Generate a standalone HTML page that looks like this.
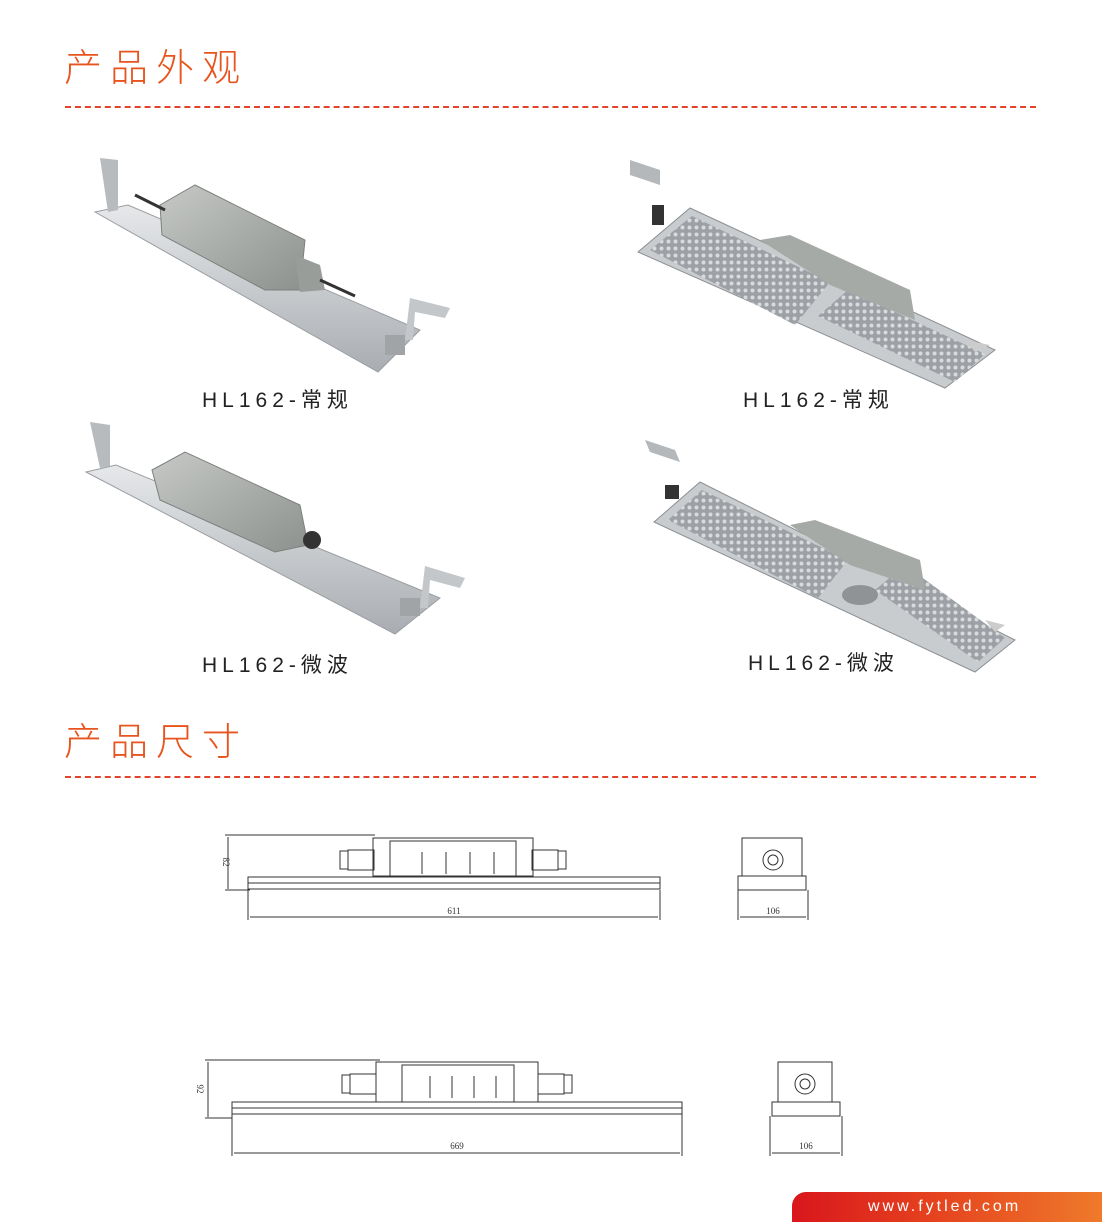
<!DOCTYPE html>
<html><head><meta charset="utf-8"><style>
html,body{margin:0;padding:0;background:#fff;}
body{width:1102px;height:1222px;position:relative;overflow:hidden;font-family:"Liberation Sans","Noto Sans CJK SC",sans-serif;}
.h{position:absolute;left:64px;font-size:38px;color:#e8541e;letter-spacing:8px;font-family:"Noto Sans CJK SC",sans-serif;font-weight:300;line-height:1;}
.dash{position:absolute;left:65px;width:971px;border-top:2px dashed #e2432a;}
.lbl{position:absolute;font-size:21px;letter-spacing:5px;color:#222;font-family:"Liberation Sans","Noto Sans CJK SC",sans-serif;line-height:1;}
.foot{position:absolute;left:792px;top:1192px;width:310px;height:30px;border-top-left-radius:14px;background:linear-gradient(90deg,#d9161c,#e6471f 50%,#ef7a2b);color:#fff;font-size:16px;letter-spacing:3px;line-height:30px;padding-left:76px;box-sizing:border-box;}
svg{position:absolute;left:0;top:0;}
</style></head><body>
<div class="h" style="top:46px">产品外观</div>
<div class="dash" style="top:106px"></div>
<div class="h" style="top:720px">产品尺寸</div>
<div class="dash" style="top:776px"></div>
<div class="lbl" style="left:202px;top:390px">HL162-常规</div>
<div class="lbl" style="left:743px;top:390px">HL162-常规</div>
<div class="lbl" style="left:202px;top:655px">HL162-微波</div>
<div class="lbl" style="left:748px;top:653px">HL162-微波</div>
<svg width="1102" height="1222" viewBox="0 0 1102 1222">
<defs>
<linearGradient id="pl" x1="0" y1="0" x2="0" y2="1"><stop offset="0" stop-color="#e6e8ea"/><stop offset="1" stop-color="#a9adb1"/></linearGradient>
<linearGradient id="bx" x1="0" y1="0" x2="1" y2="1"><stop offset="0" stop-color="#c6c9c6"/><stop offset="1" stop-color="#8d918e"/></linearGradient>
<pattern id="led" width="7" height="7" patternUnits="userSpaceOnUse"><rect width="7" height="7" fill="#9da1a5"/><circle cx="3.5" cy="3.5" r="2" fill="#d8dadc"/></pattern>
</defs>
<g>
<polygon points="95,212 128,205 420,330 378,372" fill="url(#pl)" stroke="#9a9ea2"/>
<polygon points="100,158 118,160 118,210 108,212" fill="#b8bbbe"/>
<polygon points="160,205 195,185 305,240 300,290 265,290 162,235" fill="url(#bx)" stroke="#7d817e"/>
<polygon points="295,255 320,265 325,290 300,292" fill="#999d9a"/>
<line x1="135" y1="195" x2="165" y2="210" stroke="#333" stroke-width="3"/>
<line x1="320" y1="280" x2="355" y2="296" stroke="#333" stroke-width="3"/>
<polygon points="410,298 450,308 445,318 415,312 413,340 405,340" fill="#c4c7ca"/>
<rect x="385" y="335" width="20" height="20" fill="#a0a4a7"/>
</g>
<g>
<polygon points="638,252 690,208 995,350 945,388" fill="#c9ccce" stroke="#8b8f93"/>
<polygon points="650,250 692,216 830,282 795,325" fill="url(#led)"/>
<polygon points="818,316 848,290 985,354 955,382" fill="url(#led)"/>
<polygon points="760,240 790,235 910,290 915,320 830,285" fill="#a6aaa7"/>
<polygon points="630,160 660,170 660,185 630,175" fill="#b5b8bb"/>
<rect x="652" y="205" width="12" height="20" fill="#333"/>
<polygon points="965,340 990,345 975,352" fill="#ccc"/>
</g>
<g>
<polygon points="86,472 116,465 440,598 395,634" fill="url(#pl)" stroke="#9a9ea2"/>
<polygon points="90,422 110,425 110,466 100,468" fill="#b8bbbe"/>
<polygon points="152,470 185,452 300,505 308,545 275,552 160,500" fill="url(#bx)" stroke="#7d817e"/>
<circle cx="312" cy="540" r="9" fill="#333"/>
<polygon points="425,566 465,578 460,588 430,580 428,608 420,608" fill="#c4c7ca"/>
<rect x="400" y="598" width="20" height="18" fill="#a0a4a7"/>
</g>
<g>
<polygon points="654,522 700,482 1015,640 975,672" fill="#c9ccce" stroke="#8b8f93"/>
<polygon points="668,520 702,490 848,560 818,598" fill="url(#led)"/>
<polygon points="875,590 905,565 1005,638 978,662" fill="url(#led)"/>
<polygon points="790,525 815,520 920,560 925,590 850,565" fill="#a6aaa7"/>
<ellipse cx="860" cy="595" rx="18" ry="10" fill="#8f9396"/>
<polygon points="645,440 675,450 680,462 650,452" fill="#b5b8bb"/>
<rect x="665" y="485" width="14" height="14" fill="#333"/>
<polygon points="985,620 1005,625 995,632" fill="#ccc"/>
</g>
<g fill="none" stroke="#333" stroke-width="1">
<rect x="248" y="877" width="412" height="6"/><rect x="248" y="883" width="412" height="6"/>
<rect x="373" y="838" width="160" height="38"/><rect x="390" y="841" width="126" height="35"/>
<rect x="348" y="850" width="26" height="20"/><rect x="532" y="850" width="26" height="20"/>
<rect x="340" y="851" width="8" height="18"/><rect x="558" y="851" width="8" height="18"/>
<path d="M422 852v22M446 852v22M470 852v22M494 852v22"/>
<path d="M225 835h150M225 890h25M228 837v52M248 890v30M660 890v30M250 917h408"/>
<rect x="742" y="838" width="60" height="38"/><rect x="738" y="876" width="68" height="14"/>
<circle cx="773" cy="860" r="10"/><circle cx="773" cy="860" r="5"/>
<path d="M738 890v30M808 890v30M740 917h66"/>
</g>
<text x="454" y="914" font-size="9" font-family="Liberation Serif" fill="#333" text-anchor="middle">611</text>
<text x="773" y="914" font-size="9" font-family="Liberation Serif" fill="#333" text-anchor="middle">106</text>
<text x="223" y="862" font-size="9" font-family="Liberation Serif" fill="#333" transform="rotate(90 223 862)" text-anchor="middle">82</text>
<g fill="none" stroke="#333" stroke-width="1">
<rect x="232" y="1102" width="450" height="6"/><rect x="232" y="1108" width="450" height="6"/>
<rect x="376" y="1062" width="162" height="40"/><rect x="402" y="1065" width="112" height="37"/>
<rect x="350" y="1074" width="26" height="20"/><rect x="538" y="1074" width="26" height="20"/>
<rect x="342" y="1075" width="8" height="18"/><rect x="564" y="1075" width="8" height="18"/>
<path d="M430 1076v22M452 1076v22M474 1076v22M496 1076v22"/>
<path d="M205 1060h175M205 1118h27M208 1062v55M232 1114v42M682 1114v42M234 1153h446"/>
<rect x="778" y="1062" width="54" height="40"/><rect x="772" y="1102" width="68" height="14"/>
<circle cx="805" cy="1084" r="10"/><circle cx="805" cy="1084" r="5"/>
<path d="M770 1116v40M842 1116v40M772 1153h68"/>
</g>
<text x="457" y="1149" font-size="9" font-family="Liberation Serif" fill="#333" text-anchor="middle">669</text>
<text x="806" y="1149" font-size="9" font-family="Liberation Serif" fill="#333" text-anchor="middle">106</text>
<text x="197" y="1089" font-size="9" font-family="Liberation Serif" fill="#333" transform="rotate(90 197 1089)" text-anchor="middle">92</text>
</svg>
<div class="foot">www.fytled.com</div>
</body></html>
